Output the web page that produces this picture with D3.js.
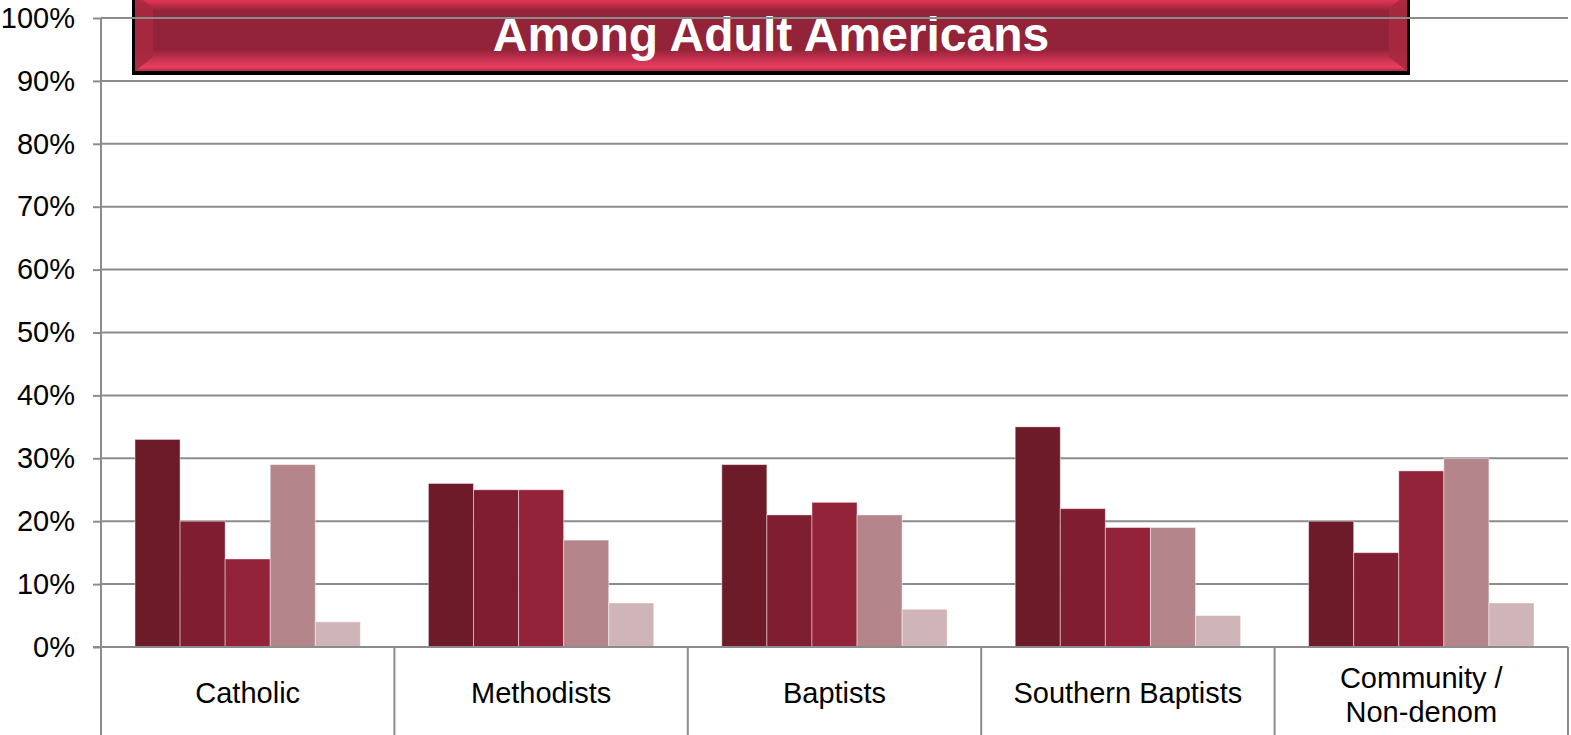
<!DOCTYPE html>
<html><head><meta charset="utf-8">
<script src="https://cdn.jsdelivr.net/npm/d3@7"></script>
<style>body{margin:0;background:#fff;overflow:hidden}svg{display:block;font-family:Arial,"Liberation Sans",sans-serif}</style>
</head><body>
<svg id="c" width="1571" height="735"></svg>
<script>
const categories = ["Catholic","Methodists","Baptists","Southern Baptists","Community / Non-denom"];
const series1 = [33,26,29,35,20];
const series2 = [20,25,21,22,15];
const series3 = [14,25,23,19,28];
const series4 = [29,17,21,19,30];
const series5 = [4,7,6,5,7];
const seriesColors = ["#6d1a29","#7f1e31","#922339","#b4868b","#d0b5b8"];
const yTicks = [0,10,20,30,40,50,60,70,80,90,100];
const titleText = "Among Adult Americans";

const allSeries = [series1,series2,series3,series4,series5];
const svg = d3.select("#c");
const x0 = d3.scaleBand().domain(categories).range([101,1568]).paddingInner(0).paddingOuter(0);
const x1 = d3.scaleBand().domain(d3.range(5)).range([34, x0.bandwidth()-34]);
const y = d3.scaleLinear().domain([0,100]).range([647,18]);

// gridlines
svg.append("g").selectAll("line").data(yTicks.filter(d=>d>0)).join("line")
  .attr("x1",101).attr("x2",1568).attr("y1",d=>y(d)).attr("y2",d=>y(d))
  .attr("stroke","#8c8c8c").attr("stroke-width",2);

// bars
const g = svg.append("g").selectAll("g").data(categories).join("g")
  .attr("transform",d=>`translate(${x0(d)},0)`);
g.selectAll("rect").data((d,i)=>allSeries.map((s,k)=>({k,v:s[i]}))).join("rect")
  .attr("x",d=>x1(d.k)).attr("width",x1.bandwidth())
  .attr("y",d=>y(d.v)).attr("height",d=>y(0)-y(d.v))
  .attr("fill",d=>seriesColors[d.k])
  .attr("stroke","rgba(255,255,255,0.45)").attr("stroke-width",1);

// y axis
const yAxis = d3.axisLeft(y).tickValues(yTicks).tickFormat(d=>d+"%").tickSize(8).tickPadding(18);
const ya = svg.append("g").attr("transform","translate(101,0)").call(yAxis);
ya.select(".domain").attr("stroke","#8c8c8c").attr("stroke-width",2).attr("d","M0,18V735");
ya.selectAll(".tick line").attr("stroke","#8c8c8c").attr("stroke-width",2);
ya.selectAll("text").attr("font-size",29).attr("fill","#000").attr("font-family","Arial, 'Liberation Sans', sans-serif");

// x axis
svg.append("line").attr("x1",93).attr("x2",1568).attr("y1",y(0)).attr("y2",y(0)).attr("stroke","#8c8c8c").attr("stroke-width",2);
const bounds = categories.map(c=>x0(c)).concat([x0.range()[1]]);
svg.append("g").selectAll("line").data(bounds).join("line")
  .attr("x1",d=>d).attr("x2",d=>d).attr("y1",y(0)).attr("y2",735)
  .attr("stroke","#8c8c8c").attr("stroke-width",2);
const xl = svg.append("g").selectAll("text").data(categories).join("text")
  .attr("text-anchor","middle").attr("font-size",29).attr("fill","#000")
  .attr("x",d=>x0(d)+x0.bandwidth()/2);
xl.each(function(d){
  const t=d3.select(this);
  const cx = x0(d)+x0.bandwidth()/2;
  const parts = d.includes(" / ") ? [d.split(" / ")[0]+" /", d.split(" / ")[1]] : [d];
  if(parts.length===1){ t.append("tspan").attr("x",cx).attr("y",703).text(parts[0]); }
  else { t.append("tspan").attr("x",cx).attr("y",688).text(parts[0]);
         t.append("tspan").attr("x",cx).attr("y",722).text(parts[1]); }
});

// title box
const defs = svg.append("defs");
const gv = defs.append("linearGradient").attr("id","tv").attr("x1",0).attr("x2",0).attr("y1",0).attr("y2",1);
[[0,"#f23d62"],[0.1,"#d8334f"],[0.22,"#922339"],[0.72,"#922339"],[0.85,"#c93250"],[0.95,"#e9405f"],[1,"#b32a45"]].forEach(([o,c])=>gv.append("stop").attr("offset",o).attr("stop-color",c));
const bx=132, bw=1278, by=-6, bh=81;
svg.append("rect").attr("x",bx).attr("y",by).attr("width",bw).attr("height",bh).attr("fill","#000");
const ix=bx+3, iw=bw-6, iy=by, ih=bh-4;
svg.append("rect").attr("x",ix).attr("y",iy).attr("width",iw).attr("height",ih).attr("fill","url(#tv)");
svg.append("path").attr("d",`M${ix},${iy}L${ix+18},${iy+14}L${ix+18},${iy+ih-14}L${ix},${iy+ih}Z`).attr("fill","#a8293f").attr("opacity",0.9);
svg.append("path").attr("d",`M${ix+iw},${iy}L${ix+iw-18},${iy+14}L${ix+iw-18},${iy+ih-14}L${ix+iw},${iy+ih}Z`).attr("fill","#a8293f").attr("opacity",0.9);
svg.append("text").attr("x",771).attr("y",51).attr("text-anchor","middle").attr("font-size",48).attr("font-weight","bold").attr("fill","#fff").text(titleText);
// 100% gridline drawn over box
svg.append("line").attr("x1",101).attr("x2",1568).attr("y1",y(100)).attr("y2",y(100)).attr("stroke","#8c8c8c").attr("stroke-width",2);
</script>
</body></html>
